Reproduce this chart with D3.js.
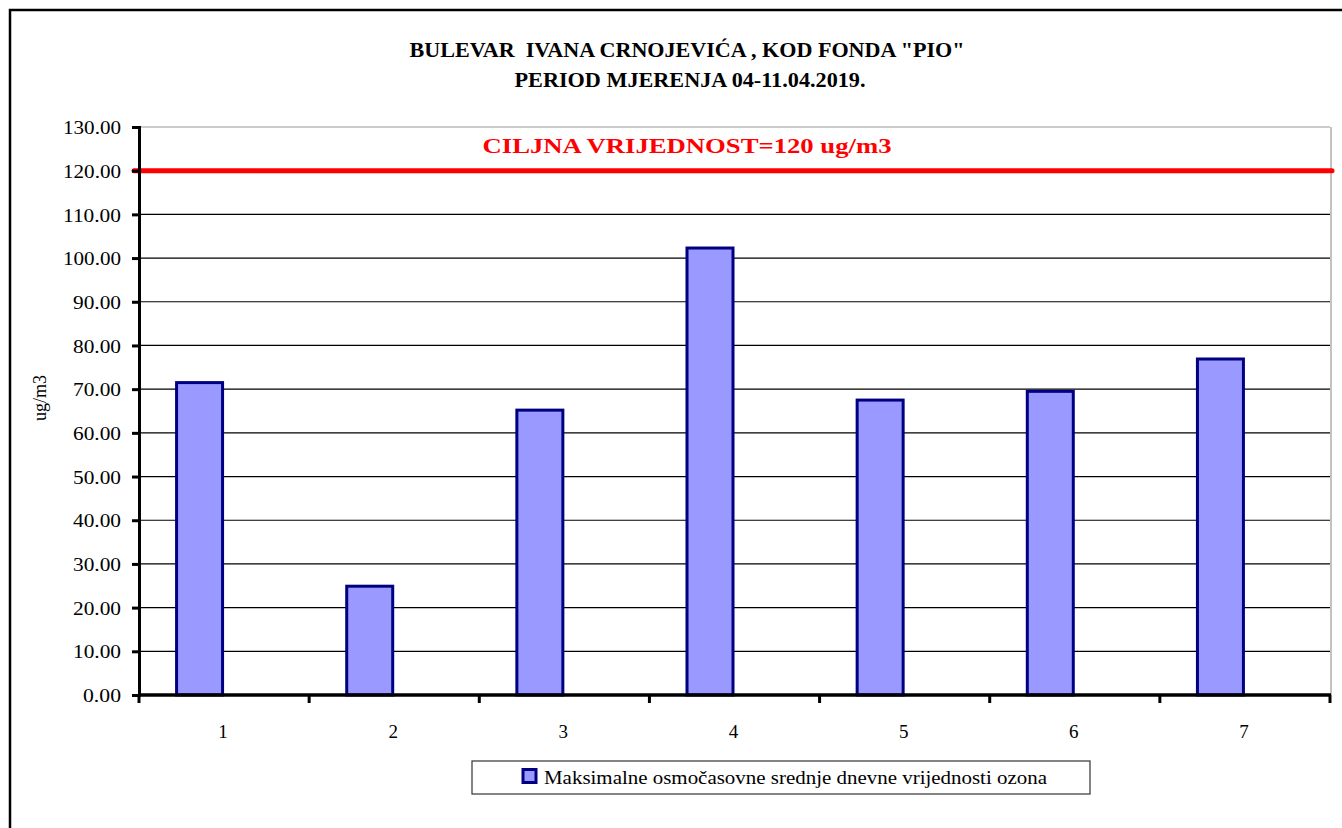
<!DOCTYPE html>
<html><head><meta charset="utf-8">
<script src="https://cdn.jsdelivr.net/npm/d3@7"></script>
<style>body{margin:0;background:#fff}svg{display:block}text{font-family:"Liberation Serif","Times New Roman",serif}</style>
</head><body><svg id="c" width="1342" height="828"></svg>
<script>
const categories = ["1","2","3","4","5","6","7"];
const values = [71.5, 24.9, 65.2, 102.3, 67.5, 69.5, 76.9];
const yTicks = [0,10,20,30,40,50,60,70,80,90,100,110,120,130];
const targetValue = 120;
const titleLines = ["BULEVAR  IVANA CRNOJEVIĆA , KOD FONDA \"PIO\"", "PERIOD MJERENJA 04-11.04.2019."];
const targetLabel = "CILJNA VRIJEDNOST=120 ug/m3";
const yLabel = "ug/m3";
const legendLabel = "Maksimalne osmočasovne srednje dnevne vrijednosti ozona";

const svg = d3.select("#c");
const font = "Liberation Serif";
const L = 139, R = 1330, T = 127, B = 695;
const x = d3.scaleBand().domain(categories).range([L, R]).padding(0);
const y = d3.scaleLinear().domain([0,130]).range([B, T]);

// outer frame
svg.append("rect").attr("x",10).attr("y",10).attr("width",1345).attr("height",830)
  .attr("fill","none").attr("stroke","#000").attr("stroke-width",2.5);

// titles
svg.append("text").attr("x",687).attr("y",57).attr("text-anchor","middle")
  .style("white-space","pre")
  .attr("font-family",font).attr("font-size",20).attr("font-weight","bold")
  .attr("textLength",555).attr("lengthAdjust","spacingAndGlyphs").text(titleLines[0]);
svg.append("text").attr("x",690).attr("y",87).attr("text-anchor","middle")
  .attr("font-family",font).attr("font-size",20).attr("font-weight","bold")
  .attr("textLength",351).attr("lengthAdjust","spacingAndGlyphs").text(titleLines[1]);

// gridlines
svg.append("g").selectAll("line").data(yTicks.filter(d=>d>0)).join("line")
  .attr("x1",L).attr("x2",R).attr("y1",d=>y(d)).attr("y2",d=>y(d))
  .attr("stroke",d=>d===130?"#999":"#000").attr("stroke-width",1.2);
// right border of plot
svg.append("line").attr("x1",R+1).attr("x2",R+1).attr("y1",T).attr("y2",B)
  .attr("stroke","#999").attr("stroke-width",1.2);

// bars
const bw = 49;
svg.append("g").selectAll("rect").data(values).join("rect")
  .attr("x",(d,i)=>x(categories[i])+x.bandwidth()/2-bw+1.5)
  .attr("y",d=>y(d))
  .attr("width",bw-3)
  .attr("height",d=>B-y(d))
  .attr("fill","#9999FF").attr("stroke","#000080").attr("stroke-width",3);

// target line
svg.append("line").attr("x1",L-5).attr("x2",R+2).attr("y1",y(targetValue)).attr("y2",y(targetValue))
  .attr("stroke","#ff0000").attr("stroke-width",5).attr("stroke-linecap","round");
svg.append("text").attr("x",687).attr("y",153).attr("text-anchor","middle")
  .attr("font-family",font).attr("font-size",22).attr("font-weight","bold").attr("fill","#ff0000")
  .attr("textLength",409).attr("lengthAdjust","spacingAndGlyphs").text(targetLabel);

// y axis
const yAxis = d3.axisLeft(y).tickValues(yTicks).tickFormat(d3.format(".2f")).tickSize(7).tickPadding(6);
const gy = svg.append("g").attr("transform",`translate(${L},0)`).call(yAxis);
gy.attr("font-family",font).attr("font-size",19);
gy.select(".domain").attr("stroke","#000").attr("stroke-width",3);
gy.selectAll(".tick line").attr("stroke","#000").attr("stroke-width",3);
gy.selectAll("text").attr("font-family",font).attr("font-size",19).attr("fill","#000").attr("dy","0.35em")
  .attr("x",-18)
  .attr("textLength",d=>d>=100?58:(d>=10?48:38)).attr("lengthAdjust","spacingAndGlyphs");

// x axis
const xTickScale = d3.scaleLinear().domain([0,7]).range([L,R]);
svg.append("g").selectAll("line").data(d3.range(0,8)).join("line")
  .attr("x1",d=>xTickScale(d)).attr("x2",d=>xTickScale(d)).attr("y1",B).attr("y2",B+8)
  .attr("stroke","#000").attr("stroke-width",3);
svg.append("line").attr("x1",L-1).attr("x2",R+1).attr("y1",B).attr("y2",B)
  .attr("stroke","#000").attr("stroke-width",3.5);
svg.append("g").selectAll("text").data(categories).join("text")
  .attr("x",d=>x(d)+x.bandwidth()/2-1).attr("y",738).attr("text-anchor","middle")
  .attr("font-family",font).attr("font-size",19).text(d=>d);

// y label
svg.append("text").attr("transform","translate(46,398) rotate(-90)").attr("text-anchor","middle")
  .attr("font-family",font).attr("font-size",18).text(yLabel);

// legend
svg.append("rect").attr("x",472).attr("y",761).attr("width",618).attr("height",33)
  .attr("fill","#fff").attr("stroke","#333").attr("stroke-width",1.2);
svg.append("rect").attr("x",523).attr("y",769.5).attr("width",13).attr("height",13)
  .attr("fill","#9999FF").attr("stroke","#000080").attr("stroke-width",3);
svg.append("text").attr("x",544).attr("y",784).attr("font-family",font).attr("font-size",19)
  .attr("textLength",503).attr("lengthAdjust","spacingAndGlyphs").text(legendLabel);
</script></body></html>
